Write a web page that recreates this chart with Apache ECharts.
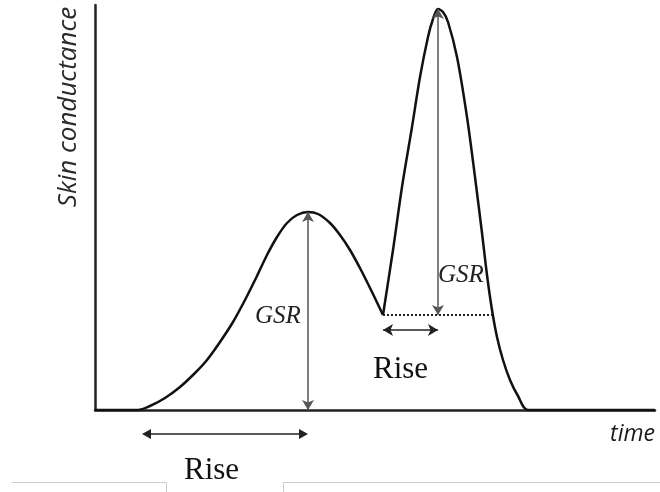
<!DOCTYPE html>
<html>
<head>
<meta charset="utf-8">
<script src="https://cdn.jsdelivr.net/npm/echarts@6/dist/echarts.min.js"></script>
<style>html,body{margin:0;padding:0;background:#fff;}#chart{width:660px;height:492px;}</style>
</head>
<body>
<div id="chart"></div>
<script>
// Time (x) and skin conductance (y), arbitrary units
var riseTime = [0, 4.3, 5.5, 7.0, 8.5, 10.0, 11.2, 12.5, 13.8, 15.0, 16.2, 17.2, 18.2, 19.2, 20.2, 21.3, 22.3, 23.5, 24.5, 25.5, 26.6, 27.7, 28.8];
var riseCond = [0, 0, 0.4, 1.2, 2.3, 3.7, 5.0, 6.8, 8.8, 11.0, 13.4, 15.5, 17.3, 18.7, 19.5, 19.8, 19.6, 18.7, 17.5, 16.0, 14.0, 11.8, 9.5];
var peakTime = [28.8, 29.8, 30.7, 31.7, 32.5, 33.3, 33.8, 34.3, 34.8, 35.3, 36.2, 37.2, 38.0, 38.7, 39.2, 39.7, 40.2, 40.8, 41.5, 42.3, 43.3, 56];
var peakCond = [9.5, 16.0, 22.3, 28.3, 33.3, 37.3, 39.1, 40.1, 39.8, 38.8, 35.3, 29.3, 23.3, 17.7, 13.5, 10.0, 7.3, 5.0, 3.0, 1.4, 0, 0];
// Annotation positions (data units)
var gsr1 = [21.3, 0, 19.8];        // x, from, to
var gsr2 = [34.3, 9.5, 40.1];
var dottedBase = [28.8, 39.7, 9.5]; // from x, to x, y
var rise1 = [4.7, 21.3, -2.4];      // from x, to x, y (below the time axis)
var rise2 = [28.8, 34.3, 8.0];
var axisLabels = {y: 'Skin conductance', x: 'time'};

function pairs(xs, ys){ return xs.map(function(x,i){return [x, ys[i]];}); }

var chart = echarts.init(document.getElementById('chart'), null, {renderer:'canvas'});
var arrowStyle = {color:'#222', width:1.5, type:'solid'};
var grayArrow = {color:'#555', width:1.5, type:'solid'};
var option = {
  animation:false,
  backgroundColor:'#fff',
  grid:{left:95, right:5, top:5, bottom:82},
  xAxis:{type:'value', min:0, max:56, axisLine:{show:true, lineStyle:{color:'#222', width:2.5}},
         axisTick:{show:false}, axisLabel:{show:false}, splitLine:{show:false}},
  yAxis:{type:'value', min:0, max:40.5, axisLine:{show:true, lineStyle:{color:'#222', width:2.5}},
         axisTick:{show:false}, axisLabel:{show:false}, splitLine:{show:false}},
  series:[
    {type:'line', data:pairs(riseTime, riseCond), smooth:0.3, showSymbol:false, clip:false,
     lineStyle:{color:'#111', width:2.5},
     markLine:{silent:true, symbol:['arrow','arrow'], symbolSize:[9,10], label:{show:false},
       data:[
         [{coord:[gsr1[0], gsr1[1]], lineStyle:grayArrow}, {coord:[gsr1[0], gsr1[2]]}],
         [{coord:[rise2[0], rise2[2]], lineStyle:arrowStyle}, {coord:[rise2[1], rise2[2]]}]
       ]}},
    {type:'line', data:pairs(peakTime, peakCond), smooth:0.3, showSymbol:false, clip:false,
     lineStyle:{color:'#111', width:2.5},
     markLine:{silent:true, symbol:['arrow','arrow'], symbolSize:[9,10], label:{show:false},
       data:[
         [{coord:[gsr2[0], gsr2[1]], lineStyle:grayArrow}, {coord:[gsr2[0], gsr2[2]]}],
         [{coord:[dottedBase[0], dottedBase[2]], symbol:'none', lineStyle:{color:'#222', width:2, type:[2,2]}},
          {coord:[dottedBase[1], dottedBase[2]], symbol:'none'}]
       ]}}
  ],
  graphic:[
    {id:'ylab', type:'text', x:69, y:107, rotation:Math.PI/2,
     style:{text:axisLabels.y, font:'italic 400 26px "Open Sans"', fill:'#2a2a2a', align:'center', verticalAlign:'middle'}},
    {id:'xlab', type:'text', x:655, y:434,
     style:{text:axisLabels.x, font:'italic 400 23px "Open Sans"', fill:'#1a1a1a', align:'right', verticalAlign:'middle'}},
    {id:'gsr1', type:'text', x:255, y:316,
     style:{text:'GSR', font:'italic 25px "Liberation Serif"', fill:'#222', align:'left', verticalAlign:'middle'}},
    {id:'gsr2', type:'text', x:438, y:275,
     style:{text:'GSR', font:'italic 25px "Liberation Serif"', fill:'#222', align:'left', verticalAlign:'middle'}},
    {id:'rise2', type:'text', x:373, y:370,
     style:{text:'Rise', font:'31px "Liberation Serif"', fill:'#111', align:'left', verticalAlign:'middle'}},
    {id:'rise1', type:'text', x:184, y:471,
     style:{text:'Rise', font:'31px "Liberation Serif"', fill:'#111', align:'left', verticalAlign:'middle'}},
    {id:'f1', type:'polyline', shape:{points:[[12,482.5],[166.5,482.5],[166.5,492]]}, style:{stroke:'#cccccc', lineWidth:1, fill:null}},
    {id:'f2', type:'polyline', shape:{points:[[283.5,492],[283.5,482.5],[660,482.5]]}, style:{stroke:'#cccccc', lineWidth:1, fill:null}}
  ]
};
chart.setOption(option);

// Lower "Rise" arrow lies below the time axis: place it through the axis scale
var p0 = chart.convertToPixel({xAxisIndex:0, yAxisIndex:0}, [rise1[0], rise1[2]]);
var p1 = chart.convertToPixel({xAxisIndex:0, yAxisIndex:0}, [rise1[1], rise1[2]]);
var ah = 9, aw = 5;
chart.setOption({graphic:[
  {id:'rl', type:'line', shape:{x1:p0[0]+ah-1, y1:p0[1], x2:p1[0]-ah+1, y2:p1[1]}, style:{stroke:'#222', lineWidth:1.5}},
  {id:'ra', type:'polygon', shape:{points:[[p0[0],p0[1]],[p0[0]+ah,p0[1]-aw],[p0[0]+ah,p0[1]+aw]]}, style:{fill:'#222'}},
  {id:'rb', type:'polygon', shape:{points:[[p1[0],p1[1]],[p1[0]-ah,p1[1]-aw],[p1[0]-ah,p1[1]+aw]]}, style:{fill:'#222'}}
]});
</script>
</body>
</html>
